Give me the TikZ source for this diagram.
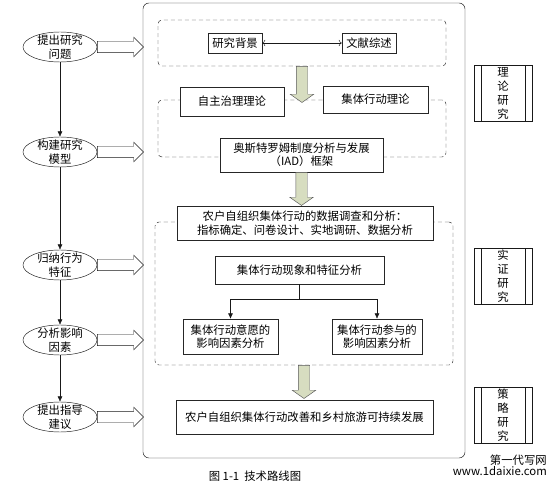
\documentclass[tikz,border=0pt]{standalone}
\usepackage{fontspec}
\setmainfont{Noto Sans CJK SC}
\usetikzlibrary{arrows.meta,positioning,calc,shapes.geometric,shapes.arrows}
\definecolor{arrowgreen}{RGB}{215,221,192}

\begin{document}
\begin{tikzpicture}[x=0.03cm, y=-0.03cm,
  font=\fontsize{9.7pt}{11.5pt}\selectfont,
  stage/.style={draw=black!90, ellipse, minimum width=2.22cm, minimum height=0.9cm,
    inner xsep=0pt, inner ysep=-3pt, align=center},
  box/.style={draw=black!85, fill=white, align=center, inner sep=0pt},
  grp/.style={draw=black!85, dash pattern=on 3.5pt off 2.5pt, rounded corners=0.12cm},
  proc/.style={draw=black!90, minimum width=1.74cm, minimum height=1.67cm, inner sep=0pt,
    align=center, font=\fontsize{9.7pt}{11.9pt}\selectfont,
    path picture={
      \draw[black!90] ([xshift=0.22cm]path picture bounding box.north west) --
        ([xshift=0.22cm]path picture bounding box.south west);
      \draw[black!90] ([xshift=-0.2cm]path picture bounding box.north east) --
        ([xshift=-0.2cm]path picture bounding box.south east);}},
  arr/.style={-{Latex[length=4.5pt,width=4pt]}, black!90},
  blockarr/.style={single arrow, draw=black!90, fill=white, minimum height=1.38cm,
    inner xsep=0pt, inner ysep=0.165cm, single arrow head extend=0.12cm, anchor=tail},
  greenarr/.style={single arrow, draw=black!65, fill=arrowgreen, rotate=-90,
    inner xsep=0pt, inner ysep=0.165cm, single arrow head extend=0.18cm,
    single arrow tip angle=110, anchor=tail}]
\useasboundingbox (0,0) rectangle (558,486);

\node[draw=black!90, rounded corners=0.18cm, minimum width=9.66cm, minimum height=13.65cm]
  (frame) at (304,230.5) {};

\node[grp, minimum width=8.64cm, minimum height=1.38cm] (grp1) at (302,43) {};
\node[grp, minimum width=8.64cm, minimum height=1.71cm] (grp2) at (302,128.5) {};
\node[grp, minimum width=8.94cm, minimum height=4.29cm] (grp3) at (304,293.5) {};

\node[stage] (s1) at (60,47) {提出研究\\问题};
\node[stage] (s2) at (60,152) {构建研究\\模型};
\node[stage] (s3) at (60,265) {归纳行为\\特征};
\node[stage] (s4) at (60,340) {分析影响\\因素};
\node[stage] (s5) at (60,417) {提出指导\\建议};

\draw[arr] (s1) -- (s2);
\draw[arr] (s2) -- (s3);
\draw[arr] (s3) -- (s4);
\draw[arr] (s4) -- (s5);

\node[blockarr] at (s1.east) {};
\node[blockarr] at (s2.east) {};
\node[blockarr] at (s3.east) {};
\node[blockarr] at (s4.east) {};
\node[blockarr] at (s5.east) {};

\node[box, minimum width=1.62cm, minimum height=0.6cm] (bg) at (235,43) {研究背景};
\node[box, minimum width=1.62cm, minimum height=0.6cm] (lit) at (369,43) {文献综述};
\draw[<->, black!90] (bg) -- (lit);

\node[box, minimum width=3.12cm, minimum height=0.87cm] (self) at (232,101.5) {自主治理理论};
\node[box, minimum width=3.15cm, minimum height=0.81cm] (coll) at (375.5,99.5) {集体行动理论};
\node[box, minimum width=4.89cm, minimum height=1.02cm] (iad) at (301.5,155)
  {奥斯特罗姆制度分析与发展\\（IAD）框架};

\node[box, minimum width=7.68cm, minimum height=1.02cm] (survey) at (305,223)
  {农户自组织集体行动的数据调查和分析：\\指标确定、问卷设计、实地调研、数据分析};
\node[box, minimum width=5.07cm, minimum height=0.84cm] (phen) at (299.5,270)
  {集体行动现象和特征分析};
\node[box, minimum width=2.85cm, minimum height=1.05cm] (will) at (230.5,336.5)
  {集体行动意愿的\\影响因素分析};
\node[box, minimum width=2.7cm, minimum height=1.05cm] (part) at (377,336.5)
  {集体行动参与的\\影响因素分析};
\draw[black!90] (phen.south) -- ++(0,15) coordinate (split);
\draw[arr] (split) -| (will.north);
\draw[arr] (split) -| (part.north);

\node[box, minimum width=7.71cm, minimum height=1.02cm] (final) at (304.5,417)
  {农户自组织集体行动改善和乡村旅游可持续发展};

\node[greenarr, minimum height=1.08cm] at (grp1.south) {};
\node[greenarr, minimum height=0.99cm] at (iad.south) {};
\node[greenarr, minimum height=0.99cm] at (grp3.south) {};

\node[proc] (theory) at (503,93.5) {理\\论\\研\\究};
\node[proc] (empir) at (503,276) {实\\证\\研\\究};
\node[proc] (policy) at (503,415) {策\\略\\研\\究};

\node (cap) at (255,476) {图 1-1~~技术路线图};
\node[anchor=east, inner sep=0pt] (wm1) at (547,460) {第一代写网};
\node[inner sep=0pt, below=1pt of wm1.south east, anchor=north east] (wm2)
  {www.1daixie.com};
\end{tikzpicture}
\end{document}
